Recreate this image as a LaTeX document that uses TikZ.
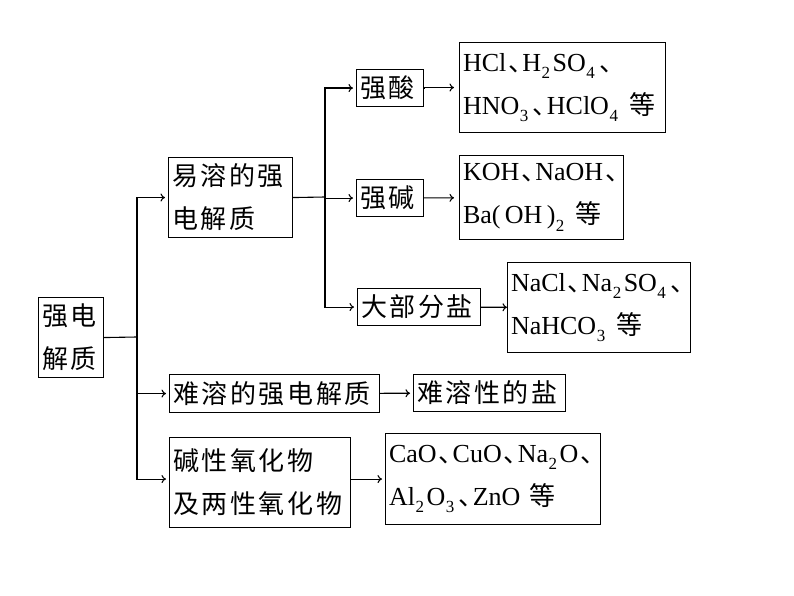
\documentclass[tikz,border=0pt]{standalone}
\usepackage{fontspec}
\usetikzlibrary{arrows.meta}
\setmainfont{Liberation Serif}
\newfontfamily\zh[LetterSpace=10]{Noto Sans CJK SC}
\newfontfamily\zhp{Noto Sans CJK SC}
\newfontfamily\zhd[CharacterWidth=AlternateHalf]{Noto Sans CJK SC}
\newcommand\dn[1]{\kern0.5pt\raisebox{-0.3em}{\fontsize{17}{17}\selectfont #1}\kern2.5pt\relax}
\newcommand\dun{\kern2pt{\zhd 、}\kern1pt\relax}

\begin{document}
\begin{tikzpicture}[x=1pt,y=-1pt,line width=1.1pt,>={To[length=4.5pt,width=8pt]},
  box/.style={draw,anchor=north west,inner xsep=3.5pt,inner ysep=0pt,align=left,
    font=\fontsize{26}{43}\selectfont},
  arr/.style={->,shorten >=3pt}]
	\useasboundingbox (0,0) rectangle (794,596);

	% Raiz
	\node[box,text width=58pt,minimum height=80pt] (root) at (38,297) {{\zh 强电}\\{\zh 解质}};

	% Primer nivel
	\node[box,text width=117pt,minimum height=80pt] (easy) at (168,157) {{\zh 易溶的强}\\{\zh 电解质}};
	\node[box,text width=203pt,minimum height=38pt] (hard) at (169,374) {\zh 难溶的强电解质};
	\node[box,text width=174pt,minimum height=90pt] (oxide) at (169,437) {{\zh 碱性氧化物}\\{\zh 及两性氧化物}};

	% Segundo nivel
	\node[box,text width=60pt,minimum height=37pt] (acid) at (356,69) {\zh 强酸};
	\node[box,text width=60pt,minimum height=37pt] (base) at (356,179) {\zh 强碱};
	\node[box,text width=116pt,minimum height=37pt] (salt) at (357,288) {\zh 大部分盐};

	% Ejemplos
	\node[box,text width=199pt,minimum height=90pt] (acidex) at (459,42)
	  {HCl\dun H\dn{2}SO\dn{4}\dun\\HNO\dn{3}\dun HClO\dn{4} {\zhp 等}};
	\node[box,text width=157pt,minimum height=84pt] (baseex) at (459,155)
	  {KOH\dun NaOH\dun\\Ba(\,OH\,)\dn{2} {\zhp 等}};
	\node[box,text width=176pt,minimum height=90pt] (saltex) at (507,262)
	  {NaCl\dun Na\dn{2}SO\dn{4}\dun\\NaHCO\dn{3} {\zhp 等}};
	\node[box,text width=145pt,minimum height=37pt] (hardex) at (413,374) {\zh 难溶性的盐};
	\node[box,text width=208pt,minimum height=91pt] (oxideex) at (385,433)
	  {CaO\dun CuO\dun Na\dn{2}O\dun\\Al\dn{2}O\dn{3}\dun ZnO {\zhp 等}};

	% Ramas
	\coordinate (j1) at (137,337);
	\coordinate (j2) at (325,197);
	\draw (root.east) -- (j1);
	\draw[arr] (j1) |- (easy.west);
	\draw[arr] (j1) |- (hard.west);
	\draw[arr] (j1) |- (oxide.west |- oxideex.west);
	\draw (easy.east) -- (j2);
	\draw[arr] (j2) |- (acid.west);
	\draw[arr] (j2) |- (base.west);
	\draw[arr] (j2) |- (salt.west);

	% Flechas a ejemplos
	\draw[arr,shorten >=5pt] (acid.east) -- (acidex.west -| acid.east) -- (acidex.west);
	\draw[arr,shorten >=5pt] (base) -- (baseex);
	\draw[arr,shorten >=0pt] (salt) -- (saltex);
	\draw[arr] (hard) -- (hardex);
	\draw[arr] (oxideex.west -| oxide.east) -- (oxideex.west);
\end{tikzpicture}
\end{document}
